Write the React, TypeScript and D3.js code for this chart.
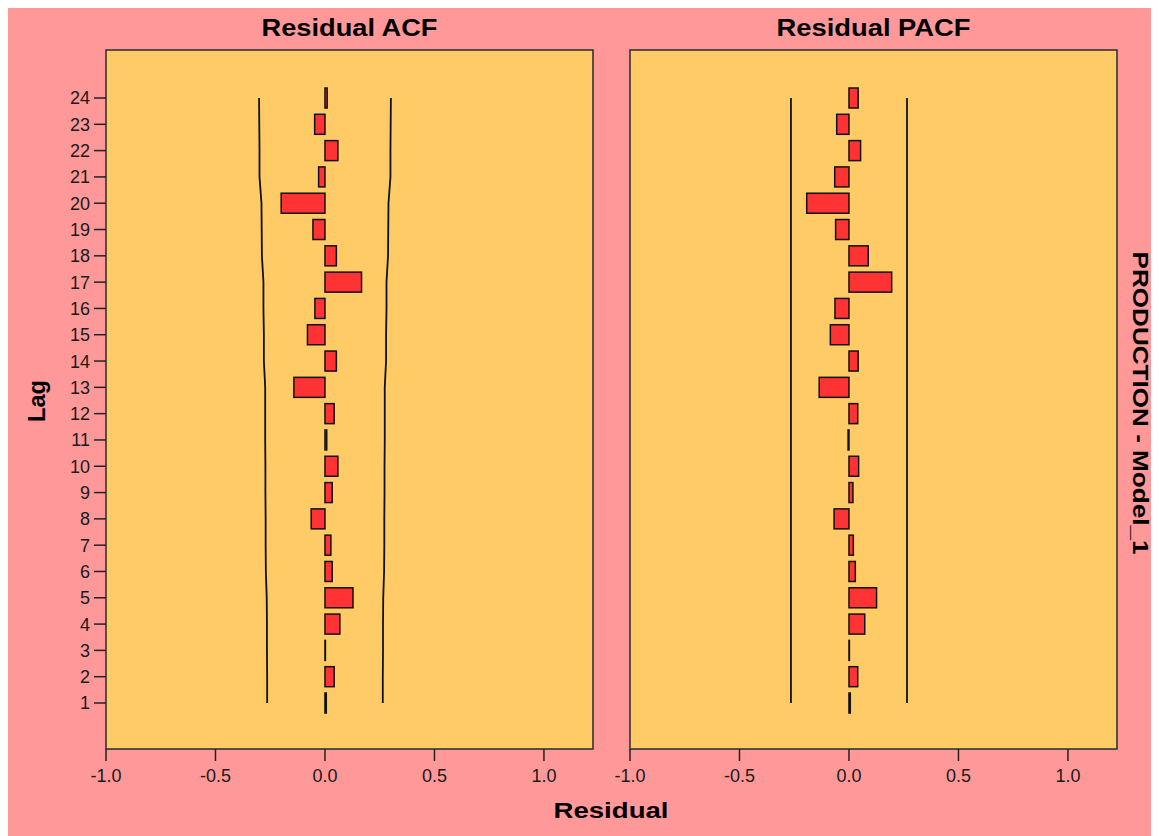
import React, { useEffect } from "react";
import * as d3 from "d3";

// lags shown on the vertical axis
const lags = d3.range(1, 25);

// residual autocorrelations, lag 1..24
const acfValues = [
  0.006, 0.042, 0.002, 0.068, 0.128, 0.033, 0.027, -0.063, 0.033, 0.059, 0.008, 0.042,
  -0.142, 0.052, -0.08, -0.046, 0.167, 0.052, -0.055, -0.2, -0.029, 0.059, -0.047, 0.01,
];

// residual partial autocorrelations, lag 1..24
const pacfValues = [
  0.006, 0.04, 0.002, 0.072, 0.126, 0.029, 0.02, -0.068, 0.018, 0.044, -0.004, 0.04,
  -0.136, 0.042, -0.085, -0.064, 0.195, 0.088, -0.061, -0.193, -0.065, 0.053, -0.056, 0.042,
];

// confidence limits (upper; lower is the mirror)
const acfLimits = [
  0.264, 0.264, 0.265, 0.265, 0.266, 0.27, 0.271, 0.271, 0.272, 0.272, 0.273, 0.273,
  0.273, 0.279, 0.279, 0.281, 0.281, 0.288, 0.289, 0.29, 0.299, 0.299, 0.3, 0.301,
];
const pacfLimits = [
  0.265, 0.265, 0.265, 0.265, 0.265, 0.265, 0.265, 0.265, 0.265, 0.265, 0.265, 0.265,
  0.265, 0.265, 0.265, 0.265, 0.265, 0.265, 0.265, 0.265, 0.265, 0.265, 0.265, 0.265,
];

const xTicks = [-1.0, -0.5, 0.0, 0.5, 1.0];

const panels = [
  { title: "Residual ACF", values: acfValues, limits: acfLimits, x0: 106, x1: 593 },
  { title: "Residual PACF", values: pacfValues, limits: pacfLimits, x0: 630, x1: 1117 },
];

const FONT = "'Liberation Sans', Arial, sans-serif";
const PANEL_TOP = 50;
const PANEL_BOTTOM = 749;
const BAR_H = 20;

const y = d3.scaleLinear().domain([1, 24]).range([703, 98]);
const fmt = (v: number) => d3.format(".1f")(v).replace("\u2212", "-");

const Panel = ({ p, showY }) => {
  const x = d3.scaleLinear().domain([-1, 1.224]).range([p.x0, p.x1]);
  const line = d3
    .line<number>()
    .x((d) => x(d))
    .y((_, i) => y(lags[i]));

  return (
    <g>
      <rect
        x={p.x0}
        y={PANEL_TOP}
        width={p.x1 - p.x0}
        height={PANEL_BOTTOM - PANEL_TOP}
        fill="#fecb66"
        stroke="#333"
        strokeWidth={1.6}
      />
      <text
        x={(p.x0 + p.x1) / 2}
        y={36}
        textAnchor="middle"
        fontFamily={FONT}
        fontWeight="bold"
        fontSize={23}
        textLength={p.title === "Residual ACF" ? 176 : 194}
        lengthAdjust="spacingAndGlyphs"
      >
        {p.title}
      </text>

      {/* confidence limits */}
      <path d={line(p.limits) ?? ""} fill="none" stroke="#111" strokeWidth={1.8} />
      <path d={line(p.limits.map((v) => -v)) ?? ""} fill="none" stroke="#111" strokeWidth={1.8} />

      {p.values.map((v, i) => (
        <rect
          key={i}
          x={Math.min(x(0), x(v))}
          y={y(lags[i]) - BAR_H / 2}
          width={Math.abs(x(v) - x(0))}
          height={BAR_H}
          fill="#ff3333"
          stroke="#111"
          strokeWidth={1.5}
        />
      ))}

      {xTicks.map((t) => (
        <g key={t}>
          <line x1={x(t)} x2={x(t)} y1={PANEL_BOTTOM} y2={PANEL_BOTTOM + 12} stroke="#222" strokeWidth={1.5} />
          <text x={x(t)} y={782} textAnchor="middle" fontFamily={FONT} fontSize={18} fill="#1a1a1a">
            {fmt(t)}
          </text>
        </g>
      ))}

      {showY &&
        lags.map((l) => (
          <g key={l}>
            <line x1={p.x0 - 12} x2={p.x0} y1={y(l)} y2={y(l)} stroke="#222" strokeWidth={1.5} />
            <text
              x={p.x0 - 16}
              y={y(l)}
              dy="0.36em"
              textAnchor="end"
              fontFamily={FONT}
              fontSize={18}
              fill="#1a1a1a"
            >
              {l}
            </text>
          </g>
        ))}
    </g>
  );
};

export default function App() {
  useEffect(() => {
    document.body.style.overflow = "hidden";
  }, []);

  return (
    <svg width={1151} height={828} style={{ display: "block" }}>
      <g transform="translate(-8,-8)">
        <rect x={8} y={8} width={1151} height={828} fill="#ff9999" />
        {panels.map((p, i) => (
          <Panel key={p.title} p={p} showY={i === 0} />
        ))}
        <text
          x={611}
          y={818}
          textAnchor="middle"
          fontFamily={FONT}
          fontWeight="bold"
          fontSize={22}
          textLength={115}
          lengthAdjust="spacingAndGlyphs"
        >
          Residual
        </text>
        <text
          transform="translate(45,401) rotate(-90)"
          textAnchor="middle"
          fontFamily={FONT}
          fontWeight="bold"
          fontSize={23}
          textLength={42}
          lengthAdjust="spacingAndGlyphs"
        >
          Lag
        </text>
        <text
          transform="translate(1133,403) rotate(90)"
          textAnchor="middle"
          fontFamily={FONT}
          fontWeight="bold"
          fontSize={22}
          textLength={303}
          lengthAdjust="spacingAndGlyphs"
        >
          PRODUCTION - Model_1
        </text>
      </g>
    </svg>
  );
}
